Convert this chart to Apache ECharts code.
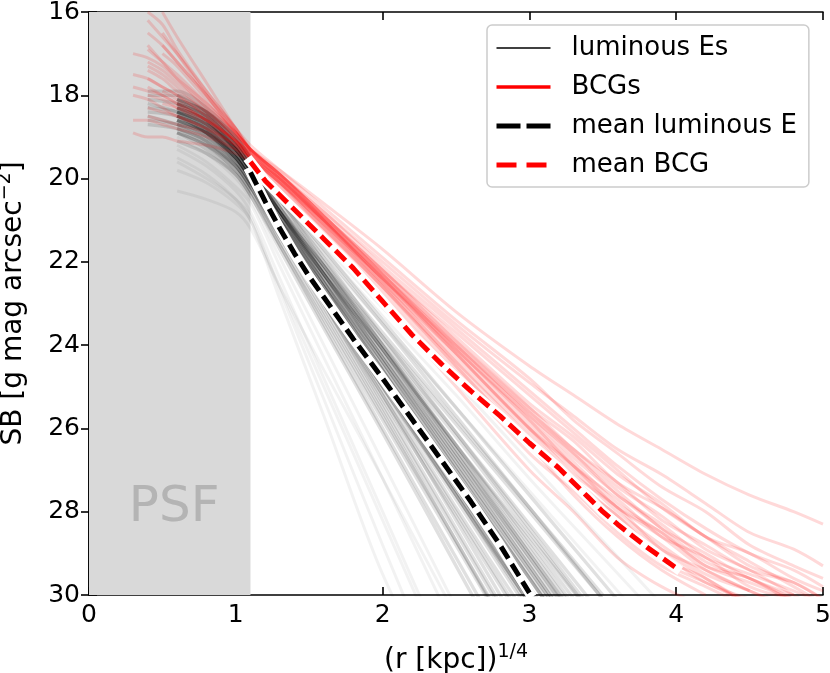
<!DOCTYPE html>
<html>
<head>
<meta charset="utf-8">
<script src="https://cdn.jsdelivr.net/npm/echarts@6/dist/echarts.min.js"></script>
<style>
html,body{margin:0;padding:0;background:#fff;}
#chart{width:830px;height:673px;}
</style>
</head>
<body>
<div id="chart"></div>
<script>
// ---- data ----
const xTickLabels = ['0','1','2','3','4','5'];
const yTickLabels = ['16','18','20','22','24','26','28','30'];
const psfEdge = 1.1;
const psfLabelPos = [0.58, 27.9];

// individual luminous E profiles (x grid and SB values)
const xBlack = [0.4, 0.6, 0.8, 1.0, 1.1, 1.3, 1.6, 2.0, 2.5, 3.0, 3.5, 4.0];
const blackCurves = [
  [null, 18.3, 18.6, 19.3, 19.8, 21.0, 22.7, 24.9, 27.6, 30.3, null, null],
  [18.2, 18.4, 18.8, 19.5, 20.0, 21.2, 22.9, 25.1, 27.9, 30.6, null, null],
  [null, 18.6, 18.9, 19.6, 20.1, 21.3, 23.1, 25.5, 28.5, 31.5, null, null],
  [18.0, 18.0, 18.4, 19.1, 19.6, 20.7, 22.3, 24.4, 27.0, 29.6, 32.2, null],
  [null, 18.8, 19.2, 19.8, 20.3, 21.6, 23.5, 26.0, 29.1, 32.2, null, null],
  [18.5, 18.7, 19.0, 19.6, 20.1, 21.1, 22.6, 24.6, 27.1, 29.6, 32.1, null],
  [null, 18.1, 18.5, 19.2, 19.7, 20.7, 22.2, 24.2, 26.7, 29.2, 31.7, null],
  [null, 18.4, 18.7, 19.4, 19.9, 20.9, 22.3, 24.1, 26.4, 28.7, 31.0, null],
  [17.9, 17.9, 18.3, 19.0, 19.5, 20.5, 21.9, 23.8, 26.1, 28.4, 30.7, null],
  [null, 18.5, 18.8, 19.4, 19.9, 20.8, 22.1, 23.8, 25.9, 28.0, 30.1, null],
  [null, 18.9, 19.2, 19.8, 20.3, 21.4, 23.0, 25.2, 28.0, 30.8, null, null],
  [null, 18.3, 18.7, 19.3, 19.8, 20.9, 22.5, 24.5, 27.2, 29.8, 32.4, null],
  [null, 18.6, 19.0, 19.6, 20.1, 21.2, 22.8, 24.9, 27.5, 30.1, null, null],
  [null, 18.7, 19.1, 19.7, 20.2, 21.4, 23.2, 25.6, 28.7, 31.8, null, null],
  [18.4, 18.5, 18.9, 19.5, 20.0, 21.0, 22.4, 24.3, 26.7, 29.1, 31.5, null],
  [null, 18.2, 18.5, 19.2, 19.7, 20.8, 22.4, 24.6, 27.3, 30.0, null, null],
  [null, 18.3, 18.7, 19.3, 19.8, 20.9, 22.6, 24.8, 27.5, 30.2, null, null],
  [null, 18.5, 18.8, 19.5, 20.0, 21.1, 22.7, 24.8, 27.4, 30.0, null, null],
  [null, 18.6, 18.9, 19.4, 19.9, 21.0, 22.5, 24.5, 27.0, 29.5, 32.0, null],
  [18.6, 18.7, 18.9, 19.5, 20.0, 21.0, 22.5, 24.4, 26.9, 29.4, 31.9, null],
  [null, 18.4, 18.8, 19.4, 19.9, 21.1, 22.9, 25.2, 28.2, 31.2, null, null],
  [null, 18.8, 19.1, 19.7, 20.2, 21.3, 22.9, 25.0, 27.6, 30.2, null, null],
  [null, 18.1, 18.5, 19.2, 19.7, 20.7, 22.1, 24.0, 26.4, 28.8, 31.2, null],
  [null, 18.9, 19.3, 19.9, 20.4, 21.6, 23.4, 25.8, 28.8, 31.8, null, null],
  [null, 18.2, 18.6, 19.2, 19.7, 20.8, 22.3, 24.3, 26.8, 29.3, 31.8, null],
  [null, 18.4, 18.7, 19.3, 19.8, 20.8, 22.3, 24.2, 26.6, 29.0, 31.4, null],
  [null, 18.2, 18.5, 19.2, 19.7, 20.8, 22.5, 24.7, 27.4, 30.1, null, null],
  [null, 18.5, 18.9, 19.5, 20.0, 21.2, 22.8, 25.0, 27.7, 30.4, null, null],
  [18.3, 18.4, 18.7, 19.3, 19.8, 20.9, 22.4, 24.4, 26.9, 29.4, 31.9, null],
  [null, 18.7, 19.0, 19.6, 20.1, 21.3, 23.0, 25.3, 28.1, 30.9, null, null],
  [null, 18.0, 18.4, 19.1, 19.6, 20.6, 22.1, 24.1, 26.6, 29.1, 31.6, null],
  [null, 18.6, 18.9, 19.5, 20.0, 21.2, 23.0, 25.4, 28.4, 31.4, null, null],
  [18.7, 18.8, 19.1, 19.7, 20.2, 21.3, 22.9, 25.0, 27.6, 30.2, null, null],
  [null, 18.3, 18.6, 19.3, 19.8, 20.8, 22.3, 24.3, 26.8, 29.3, 31.8, null],
  [null, 18.9, 19.2, 19.7, 20.2, 21.5, 23.3, 25.7, 28.7, 31.7, null, null],
  [null, 18.4, 18.8, 19.4, 19.9, 21.0, 22.6, 24.7, 27.3, 29.9, 32.5, null],
  [null, 18.2, 18.6, 19.3, 19.8, 20.8, 22.2, 24.1, 26.5, 28.9, 31.3, null],
  [null, 18.5, 18.9, 19.5, 20.0, 21.1, 22.6, 24.6, 27.1, 29.6, 32.1, null],
  [null, 19.1, 19.4, 19.9, 20.4, 21.7, 23.6, 26.1, 29.3, 32.5, null, null],
  [null, 18.1, 18.4, 19.0, 19.5, 20.5, 22.0, 24.0, 26.5, 29.0, 31.5, null],
  [null, 18.3, 18.6, 19.3, 19.8, 20.7, 22.0, 23.7, 25.8, 27.9, 30.0, null],
  [null, 18.5, 18.8, 19.4, 19.9, 20.8, 22.1, 23.9, 26.1, 28.3, 30.5, null],
  [18.1, 18.2, 18.5, 19.1, 19.6, 20.5, 21.8, 23.5, 25.7, 27.9, 30.1, null],
  [null, 18.6, 18.9, 19.5, 20.0, 20.9, 22.3, 24.1, 26.4, 28.6, 30.8, null],
  [null, 18.4, 18.7, 19.3, 19.8, 20.8, 22.2, 24.0, 26.2, 28.5, 30.8, null],
  [null, 18.1, 18.4, 19.0, 19.5, 20.4, 21.7, 23.4, 25.5, 27.6, 29.7, 31.8]
];
// faint outlying luminous E profiles
const blackFaint = [
  [null, 19.0, 19.4, 20.0, 20.5, 21.9, 24.0, 26.8, 30.3, null, null, null],
  [null, 19.3, 19.7, 20.3, 20.8, 22.4, 24.8, 28.0, 32.0, null, null, null],
  [null, 19.8, 20.1, 20.6, 21.0, 22.9, 25.7, 29.5, 33.0, null, null, null],
  [null, 19.5, 19.9, 20.5, 21.0, 22.6, 25.0, 28.2, 32.2, null, null, null],
  [null, 20.3, 20.5, 20.8, 21.2, 22.6, 24.6, 27.2, 30.5, null, null, null],
  [null, 19.2, 19.6, 20.2, 20.6, 22.1, 24.3, 27.2, 30.9, null, null, null],
  [null, 19.6, 20.0, 20.5, 20.9, 22.7, 25.3, 28.8, 33.0, null, null, null],
  [null, 18.1, 18.4, 19.1, 19.6, 20.5, 21.7, 23.3, 25.2, 27.2, 29.1, 31.0],
  [null, 18.0, 18.4, 19.1, 19.6, 20.4, 21.6, 23.1, 24.9, 26.8, 28.7, 30.6],
  [null, 18.2, 18.6, 19.2, 19.7, 20.6, 21.9, 23.5, 25.5, 27.5, 29.5, 31.5]
];

// individual BCG profiles
const xRed = [0.3, 0.4, 0.5, 0.6, 0.8, 1.0, 1.1, 1.3, 1.6, 2.0, 2.5, 3.0, 3.3, 3.6, 3.9, 4.2, 4.5, 4.8, 5.0];
const redCurves = [
  [null, 16.8, 17.2, 17.6, 18.3, 19.0, 19.4, 20.0, 21.0, 22.3, 24.0, 25.6, 26.5, 27.4, 28.1, 28.9, 29.4, 30.0, 30.4],
  [17.5, 17.6, 17.8, 18.0, 18.5, 19.1, 19.5, 20.1, 21.1, 22.5, 24.2, 25.9, 26.9, 27.9, 28.6, 29.4, 29.9, 30.4, null],
  [null, 16.2, 16.6, 17.0, 17.9, 18.8, 19.3, 19.9, 20.8, 22.0, 23.5, 24.9, 25.7, 26.5, 27.1, 27.8, 28.5, 28.9, 29.3],
  [null, 18.0, 18.1, 18.3, 18.7, 19.2, 19.5, 20.2, 21.3, 22.8, 24.7, 26.6, 27.5, 28.5, 29.3, 29.8, 30.3, null, null],
  [18.9, 19.0, 19.0, 19.1, 19.2, 19.4, 19.6, 20.2, 21.2, 22.6, 24.4, 26.1, 27.2, 28.1, 28.9, 29.6, 30.2, null, null],
  [null, null, 16.0, 16.6, 17.7, 18.8, 19.3, 19.9, 20.9, 22.2, 23.9, 25.5, 26.3, 27.3, 27.9, 28.6, 29.3, 29.7, 30.1],
  [17.0, 17.1, 17.3, 17.6, 18.2, 18.9, 19.3, 19.9, 20.9, 22.3, 24.1, 25.8, 26.9, 27.7, 28.6, 29.1, 29.8, 30.1, null],
  [null, 17.6, 17.8, 18.0, 18.5, 19.1, 19.4, 20.1, 21.2, 22.7, 24.6, 26.4, 27.4, 28.3, 29.2, 29.7, 30.2, null, null],
  [null, 16.5, 16.8, 17.2, 18.0, 18.8, 19.2, 19.8, 20.7, 21.9, 23.4, 24.8, 25.8, 26.6, 27.4, 28.0, 28.8, 29.3, 29.6],
  [null, null, 17.9, 18.1, 18.6, 19.1, 19.5, 20.0, 21.0, 22.4, 24.2, 26.0, 27.0, 28.0, 28.8, 29.5, 29.9, 30.3, null],
  [18.0, 18.1, 18.3, 18.5, 18.8, 19.2, 19.5, 20.1, 21.1, 22.4, 24.1, 25.7, 26.6, 27.6, 28.3, 29.1, 29.5, 29.9, 30.2],
  [null, 17.2, 17.4, 17.7, 18.3, 18.9, 19.3, 19.9, 21.0, 22.5, 24.4, 26.2, 27.3, 28.1, 29.1, 29.6, 30.3, null, null],
  [null, null, 16.5, 17.0, 18.0, 18.9, 19.3, 19.8, 20.6, 21.7, 23.2, 24.5, 25.2, 25.9, 26.5, 27.1, 27.6, 28.0, 28.3],
  [null, 18.5, 18.6, 18.7, 18.9, 19.3, 19.6, 20.3, 21.4, 23.0, 25.0, 27.0, 28.0, 29.1, 29.8, 30.3, null, null, null],
  [null, 16.0, 16.3, 16.9, 17.9, 18.8, 19.3, 19.9, 20.9, 22.2, 23.8, 25.4, 26.2, 27.1, 27.8, 28.6, 29.0, 29.6, 29.9],
  [null, null, 17.0, 17.3, 18.1, 18.9, 19.3, 20.0, 21.0, 22.4, 24.2, 26.0, 26.9, 27.9, 28.5, 29.3, 29.7, 30.1, null],
  [18.6, 18.6, 18.7, 18.8, 19.0, 19.3, 19.5, 20.1, 21.0, 22.3, 23.9, 25.5, 26.5, 27.3, 28.2, 28.8, 29.4, 29.7, 30.1],
  [null, 17.3, 17.5, 17.8, 18.4, 19.0, 19.4, 20.0, 21.1, 22.6, 24.5, 26.4, 27.6, 28.6, 29.4, 30.0, null, null, null],
  [null, 17.8, 18.0, 18.2, 18.6, 19.1, 19.4, 20.0, 21.0, 22.4, 24.0, 25.6, 26.6, 27.5, 28.4, 29.0, 29.6, 30.0, null],
  [null, null, 16.8, 17.2, 18.0, 18.9, 19.3, 19.9, 20.9, 22.3, 24.0, 25.7, 26.7, 27.6, 28.4, 29.2, 29.6, 30.1, null],
  [null, 18.3, 18.4, 18.5, 18.8, 19.2, 19.5, 20.1, 21.1, 22.5, 24.3, 26.0, 27.1, 27.9, 28.9, 29.4, 29.9, null, null],
  [17.8, 17.9, 18.0, 18.2, 18.6, 19.1, 19.4, 20.0, 20.9, 22.2, 23.7, 25.2, 26.1, 27.0, 27.9, 28.6, 29.2, 29.8, 30.2],
  [null, 17.4, 17.6, 17.9, 18.4, 19.0, 19.4, 20.0, 21.0, 22.4, 24.1, 25.8, 26.8, 27.8, 28.5, 29.3, 29.6, 30.2, null],
  [null, null, 18.2, 18.3, 18.6, 19.1, 19.5, 20.1, 21.2, 22.6, 24.5, 26.3, 27.3, 28.3, 29.0, 29.7, 30.1, null, null],
  [null, 16.9, 17.2, 17.5, 18.2, 18.9, 19.3, 19.9, 20.8, 22.1, 23.6, 25.1, 26.0, 26.9, 27.7, 28.4, 29.0, 29.4, 29.8]
];

// mean profiles
const meanEx = [1.1, 1.2, 1.3, 1.4, 1.5, 1.6, 1.8, 2.0, 2.2, 2.4, 2.6, 2.8, 3.0];
const meanEy = [19.85, 20.55, 21.2, 21.8, 22.35, 22.85, 23.85, 24.8, 25.78, 26.76, 27.75, 28.8, 29.95];
const meanBx = [1.1, 1.2, 1.4, 1.6, 1.8, 2.0, 2.2, 2.4, 2.6, 2.8, 3.0, 3.2, 3.4, 3.5, 3.6, 3.8, 4.0];
const meanBy = [19.6, 20.05, 20.75, 21.45, 22.15, 22.95, 23.75, 24.45, 25.1, 25.7, 26.35, 26.95, 27.65, 28.0, 28.3, 28.85, 29.35];

// ---- build chart ----
function pairs(xs, ys) {
  const out = [];
  for (let i = 0; i < xs.length; i++) if (ys[i] != null) out.push([xs[i], ys[i]]);
  return out;
}

const FONT = 'DejaVu Sans';
const series = [];

series.push({
  name: 'PSF', type: 'scatter', z: 1, silent: true,
  data: [psfLabelPos], symbolSize: 0,
  label: { show: true, position: 'inside', formatter: 'PSF', fontSize: 50, color: '#aaaaaa', fontFamily: FONT },
  markArea: {
    silent: true,
    itemStyle: { color: '#d9d9d9' },
    data: [[{ xAxis: 0 }, { xAxis: psfEdge }]]
  }
});

function curveSeries(name, xs, list, color, opacity, width, z) {
  list.forEach(c => series.push({
    name: name, type: 'line', z: z, silent: true, smooth: 0.3,
    symbol: 'none', data: pairs(xs, c), clip: true,
    lineStyle: { color: color, width: width, opacity: opacity }
  }));
}
curveSeries('luminous Es', xBlack, blackCurves, '#000000', 0.12, 3.4, 2);
curveSeries('luminous Es', xBlack, blackFaint, '#000000', 0.05, 3, 2);
curveSeries('BCGs', xRed, redCurves, '#ff0000', 0.15, 3, 3);

function meanSeries(name, xs, ys, color) {
  series.push({
    name: name + ' outline', type: 'line', z: 5, silent: true, symbol: 'none', clip: true,
    data: pairs(xs, ys),
    lineStyle: { color: '#ffffff', width: 10, cap: 'square', join: 'miter' }
  });
  series.push({
    name: name, type: 'line', z: 6, silent: true, symbol: 'none', clip: true,
    data: pairs(xs, ys),
    lineStyle: { color: color, width: 5, type: [14, 6.5], cap: 'butt' }
  });
}
meanSeries('mean luminous E', meanEx, meanEy, '#000000');
meanSeries('mean BCG', meanBx, meanBy, '#ff0000');

const axisCommon = {
  axisLine: { show: true, lineStyle: { color: '#000', width: 1.6 } },
  axisTick: { show: true, inside: true, length: 8, lineStyle: { color: '#000', width: 1.6 } },
  splitLine: { show: false }
};

const hiddenSymbol = { color: 'rgba(0,0,0,0)', borderWidth: 0, opacity: 0 };

const option = {
  animation: false,
  backgroundColor: '#ffffff',
  textStyle: { fontFamily: FONT },
  grid: { left: 89, right: 7, top: 12, bottom: 78, containLabel: false, outerBoundsMode: 'none' },
  legend: {
    orient: 'vertical', left: 487, top: 25, z: 10,
    backgroundColor: '#ffffff', borderColor: '#cccccc', borderWidth: 1.5, borderRadius: 5,
    padding: [10, 12, 9, 7],
    itemWidth: 54, itemHeight: 14, itemGap: 13,
    selectedMode: false,
    textStyle: { fontSize: 26, color: '#000', fontFamily: FONT, padding: [0, 0, 0, 16] },
    data: [
      { name: 'luminous Es', itemStyle: hiddenSymbol, lineStyle: { color: '#000', width: 1.6, opacity: 1, type: 'solid' } },
      { name: 'BCGs', itemStyle: hiddenSymbol, lineStyle: { color: '#ff0000', width: 3.5, opacity: 1, type: 'solid' } },
      { name: 'mean luminous E', itemStyle: hiddenSymbol, lineStyle: { color: '#000', width: 5, opacity: 1, type: [24, 6] } },
      { name: 'mean BCG', itemStyle: hiddenSymbol, lineStyle: { color: '#ff0000', width: 5, opacity: 1, type: [20, 10] } }
    ]
  },
  xAxis: [
    Object.assign({
      type: 'value', min: 0, max: 5, interval: 1, position: 'bottom',
      axisLabel: { fontSize: 25, color: '#000', margin: 8, formatter: v => xTickLabels[Math.round(v)] },
      name: '(r [kpc]){sup|1/4}', nameLocation: 'middle', nameGap: 48,
      nameTextStyle: { fontSize: 28, color: '#000', fontFamily: FONT, rich: { sup: { fontSize: 19, fontFamily: FONT, padding: [0, 0, 16, 0] } } }
    }, axisCommon),
    Object.assign({
      type: 'value', min: 0, max: 5, interval: 1, position: 'top',
      axisLabel: { show: false }
    }, axisCommon)
  ],
  yAxis: [
    Object.assign({
      type: 'value', min: 16, max: 30, interval: 2, inverse: true, position: 'left',
      axisLabel: { fontSize: 25, color: '#000', margin: 9, formatter: v => yTickLabels[Math.round((v - 16) / 2)] },
      name: 'SB [g mag arcsec{sup|−2}]', nameLocation: 'middle', nameGap: 58, nameRotate: 90,
      nameTextStyle: { fontSize: 28, color: '#000', fontFamily: FONT, rich: { sup: { fontSize: 19, fontFamily: FONT, padding: [0, 0, 16, 0] } } }
    }, axisCommon),
    Object.assign({
      type: 'value', min: 16, max: 30, interval: 2, inverse: true, position: 'right',
      axisLabel: { show: false }
    }, axisCommon)
  ],
  series: series
};

const chart = echarts.init(document.getElementById('chart'), null, { renderer: 'canvas' });
chart.setOption(option);
</script>
</body>
</html>
